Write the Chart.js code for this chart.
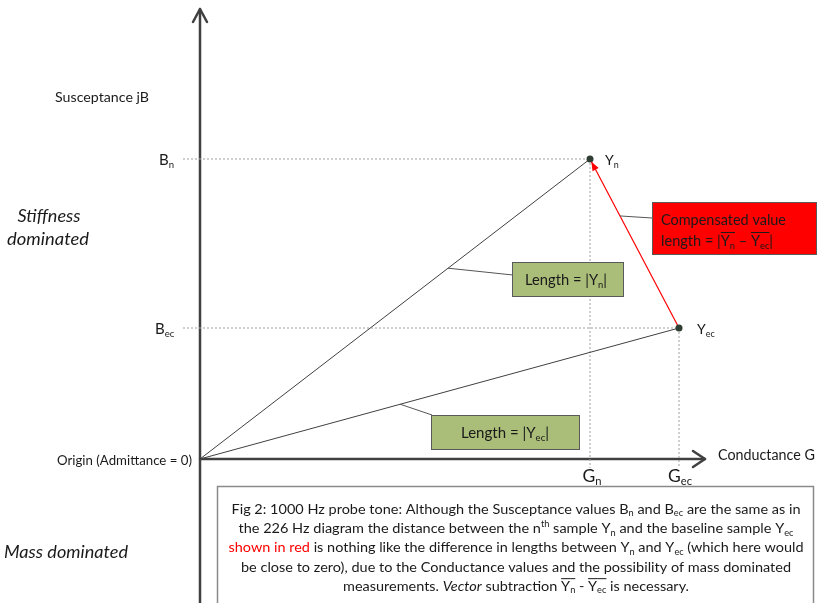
<!DOCTYPE html>
<html>
<head>
<meta charset="utf-8">
<script src="https://cdn.jsdelivr.net/npm/chart.js@4/dist/chart.umd.min.js"></script>
<style>
  body { margin: 0; background: #fff; }
  canvas { display: block; }
</style>
</head>
<body>
<canvas id="phasor" width="820" height="603"></canvas>
<script>
// sample names, conductance (G) and susceptance (B) of each admittance vector
const sampleNames = ['n', 'ec'];
const conductance = [3.9, 4.79];
const susceptance = [3.0, 1.31];

const FONT = 'Lato, "Open Sans", sans-serif';
const AXIS = '#404040';

// --- tiny rich text helper: segments with sub/sup/italic/colour/overline
function segFont(s, size) {
  const sz = (s.sub || s.sup) ? size * 0.64 : size;
  return (s.it ? 'italic ' : '') + sz + 'px ' + FONT;
}
function richWidth(ctx, segs, size) {
  let w = 0;
  segs.forEach(s => { ctx.font = segFont(s, size); w += ctx.measureText(s.t).width; });
  return w;
}
function drawRich(ctx, segs, x, y, size, align, fitW) {
  ctx.save();
  let w = richWidth(ctx, segs, size);
  let sx = 1;
  if (fitW) { sx = fitW / w; w = fitW; }
  let left = align === 'center' ? x - w / 2 : (align === 'right' ? x - w : x);
  ctx.translate(left, y);
  ctx.scale(sx, 1);
  ctx.textBaseline = 'alphabetic';
  ctx.textAlign = 'left';
  let cx = 0;
  segs.forEach(s => {
    ctx.font = segFont(s, size);
    ctx.fillStyle = s.color || '#1a1a1a';
    let dy = s.sub ? size * 0.18 : (s.sup ? -size * 0.45 : 0);
    ctx.fillText(s.t, cx, dy);
    const sw = ctx.measureText(s.t).width;
    if (s.over) {
      ctx.strokeStyle = '#1a1a1a';
      ctx.lineWidth = 1;
      ctx.beginPath();
      ctx.moveTo(cx, -size * 0.9);
      ctx.lineTo(cx + sw, -size * 0.9);
      ctx.stroke();
    }
    cx += sw;
  });
  ctx.restore();
}

function box(ctx, x, y, w, h, fill, stroke, lw) {
  ctx.fillStyle = fill;
  ctx.fillRect(x, y, w, h);
  ctx.strokeStyle = stroke || '#5a5a5a';
  ctx.lineWidth = lw || 1;
  ctx.strokeRect(x + 0.5, y + 0.5, w - 1, h - 1);
}
function line(ctx, x1, y1, x2, y2, color, width) {
  ctx.strokeStyle = color;
  ctx.lineWidth = width;
  ctx.beginPath();
  ctx.moveTo(x1, y1);
  ctx.lineTo(x2, y2);
  ctx.stroke();
}

const diagramPlugin = {
  id: 'diagram',
  beforeDatasetsDraw(chart) {
    const { ctx, scales: { x, y } } = chart;
    const ox = x.getPixelForValue(0), oy = y.getPixelForValue(0);
    ctx.save();
    ctx.lineCap = 'round';
    ctx.lineJoin = 'round';
    // vertical axis (susceptance)
    line(ctx, ox, chart.height + 2, ox, 9, AXIS, 2.5);
    ctx.beginPath();
    ctx.moveTo(ox - 7, 22); ctx.lineTo(ox, 9); ctx.lineTo(ox + 7, 22);
    ctx.stroke();
    // horizontal axis (conductance)
    const xe = x.getPixelForValue(5.05);
    line(ctx, ox, oy, xe, oy, AXIS, 2.5);
    ctx.beginPath();
    ctx.moveTo(xe - 12, oy - 8); ctx.lineTo(xe, oy); ctx.lineTo(xe - 12, oy + 8);
    ctx.stroke();
    ctx.restore();
  },
  afterDatasetsDraw(chart) {
    const { ctx, scales: { x, y } } = chart;
    const px = conductance.map(v => x.getPixelForValue(v));
    const py = susceptance.map(v => y.getPixelForValue(v));
    const ox = x.getPixelForValue(0), oy = y.getPixelForValue(0);
    ctx.save();

    // red arrow head at Y_n
    const ang = Math.atan2(py[0] - py[1], px[0] - px[1]);
    const tx = px[0] - Math.cos(ang) * 3, ty = py[0] - Math.sin(ang) * 3;
    ctx.fillStyle = '#ff0000';
    ctx.beginPath();
    ctx.moveTo(tx, ty);
    ctx.lineTo(tx - 9 * Math.cos(ang) + 3.5 * Math.sin(ang), ty - 9 * Math.sin(ang) - 3.5 * Math.cos(ang));
    ctx.lineTo(tx - 9 * Math.cos(ang) - 3.5 * Math.sin(ang), ty - 9 * Math.sin(ang) + 3.5 * Math.cos(ang));
    ctx.closePath();
    ctx.fill();

    // callout connectors (anchored part way along each vector)
    const along = (x1, y1, x2, y2, t) => [x1 + (x2 - x1) * t, y1 + (y2 - y1) * t];
    const aN = along(ox, oy, px[0], py[0], 0.636);
    const aE = along(ox, oy, px[1], py[1], 0.418);
    const aR = along(px[1], py[1], px[0], py[0], 0.663);
    line(ctx, aN[0], aN[1], 513, 275, '#555', 1);
    line(ctx, aE[0], aE[1], 432, 415, '#555', 1);
    line(ctx, aR[0], aR[1], 652, 218, '#555', 1);

    // callout boxes
    box(ctx, 512, 262, 112, 35, '#aabd79');
    drawRich(ctx, [{ t: 'Length = |Y' }, { t: sampleNames[0], sub: 1 }, { t: '|' }], 566, 285, 15, 'center', 82);
    box(ctx, 431, 415, 149, 35, '#aabd79');
    drawRich(ctx, [{ t: 'Length = |Y' }, { t: sampleNames[1], sub: 1 }, { t: '|' }], 505, 438, 15, 'center', 88);
    box(ctx, 652, 202, 165, 53, '#ff0000');
    drawRich(ctx, [{ t: 'Compensated value' }], 661, 225, 15, 'left', 125);
    drawRich(ctx, [{ t: 'length = |' }, { t: 'Y', over: 1 }, { t: sampleNames[0], sub: 1, over: 1 },
      { t: ' – ' }, { t: 'Y', over: 1 }, { t: sampleNames[1], sub: 1, over: 1 }, { t: '|' }], 661, 246, 15, 'left', 112);

    // axis & point labels
    drawRich(ctx, [{ t: 'Susceptance jB' }], 55, 102, 14, 'left', 94);
    drawRich(ctx, [{ t: 'B' }, { t: sampleNames[0], sub: 1 }], 159, py[0] + 6, 15, 'left');
    drawRich(ctx, [{ t: 'B' }, { t: sampleNames[1], sub: 1 }], 155, py[1] + 6, 15, 'left');
    drawRich(ctx, [{ t: 'Y' }, { t: sampleNames[0], sub: 1 }], px[0] + 15, py[0] + 6, 14, 'left');
    drawRich(ctx, [{ t: 'Y' }, { t: sampleNames[1], sub: 1 }], px[1] + 18, py[1] + 6, 14, 'left');
    drawRich(ctx, [{ t: 'Origin (Admittance = 0)' }], 57, oy + 6, 14, 'left', 135);
    drawRich(ctx, [{ t: 'Conductance G' }], 718, oy + 1, 14.5, 'left', 97);
    drawRich(ctx, [{ t: 'G' }, { t: sampleNames[0], sub: 1 }], px[0] + 2, oy + 23, 17.5, 'center');
    drawRich(ctx, [{ t: 'G' }, { t: sampleNames[1], sub: 1 }], px[1] + 1, oy + 23, 17.5, 'center');
    drawRich(ctx, [{ t: 'Stiffness', it: 1 }], 49, 222, 16.5, 'center', 63);
    drawRich(ctx, [{ t: 'dominated', it: 1 }], 48, 245, 16.5, 'center', 82);
    drawRich(ctx, [{ t: 'Mass dominated', it: 1 }], 4, 558, 16.5, 'left', 124);

    // caption
    box(ctx, 217, 486, 597, 130, '#ffffff', '#8a8a8a', 1.5);
    const sz = 13.5;
    const cap = [
      [[{ t: 'Fig 2: 1000 Hz probe tone: Although the Susceptance values B' }, { t: 'n', sub: 1 }, { t: ' and B' },
        { t: 'ec', sub: 1 }, { t: ' are the same as in' }], 569],
      [[{ t: 'the 226 Hz diagram the distance between the n' }, { t: 'th', sup: 1 }, { t: ' sample Y' }, { t: 'n', sub: 1 },
        { t: ' and the baseline sample Y' }, { t: 'ec', sub: 1 }], 555],
      [[{ t: 'shown in red', color: '#ff0000' }, { t: ' is nothing like the difference in lengths between Y' }, { t: 'n', sub: 1 },
        { t: ' and Y' }, { t: 'ec', sub: 1 }, { t: ' (which here would' }], 575],
      [[{ t: 'be close to zero), due to the Conductance values and the possibility of mass dominated' }], 550],
      [[{ t: 'measurements. ' }, { t: 'Vector', it: 1 }, { t: ' subtraction ' }, { t: 'Y', over: 1 }, { t: 'n', sub: 1, over: 1 },
        { t: ' - ' }, { t: 'Y', over: 1 }, { t: 'ec', sub: 1, over: 1 }, { t: ' is necessary.' }], 346]
    ];
    cap.forEach((c, i) => drawRich(ctx, c[0], 516, 514 + i * 19.2, sz, 'center', c[1]));
    ctx.restore();
  }
};

const dashStart = -0.17, dashEnd = -0.09;
const vecStyle = { showLine: true, borderColor: AXIS, borderWidth: 1, pointBackgroundColor: '#2f3d33', pointBorderWidth: 0 };
const dashStyle = { showLine: true, borderColor: '#a0a0a0', borderWidth: 1, borderDash: [2, 2], pointRadius: 0, order: 5 };

new Chart(document.getElementById('phasor'), {
  type: 'scatter',
  data: {
    datasets: [
      Object.assign({ label: 'Y_n', data: [{ x: 0, y: 0 }, { x: conductance[0], y: susceptance[0] }], pointRadius: [0, 3.5], order: 2 }, vecStyle),
      Object.assign({ label: 'Y_ec', data: [{ x: 0, y: 0 }, { x: conductance[1], y: susceptance[1] }], pointRadius: [0, 3.5], order: 2 }, vecStyle),
      Object.assign({ label: 'B_n', data: [{ x: dashStart, y: susceptance[0] }, { x: conductance[0], y: susceptance[0] }] }, dashStyle),
      Object.assign({ label: 'B_ec', data: [{ x: dashStart, y: susceptance[1] }, { x: conductance[1], y: susceptance[1] }] }, dashStyle),
      Object.assign({ label: 'G_n', data: [{ x: conductance[0], y: susceptance[0] }, { x: conductance[0], y: dashEnd }] }, dashStyle),
      Object.assign({ label: 'G_ec', data: [{ x: conductance[1], y: susceptance[1] }, { x: conductance[1], y: dashEnd }] }, dashStyle),
      { label: 'difference', data: [{ x: conductance[1], y: susceptance[1] }, { x: conductance[0], y: susceptance[0] }],
        showLine: true, borderColor: '#ff0000', borderWidth: 1.2, pointRadius: 0, order: 3 }
    ]
  },
  options: {
    responsive: false,
    animation: false,
    layout: { padding: 0, autoPadding: false },
    scales: {
      x: { type: 'linear', min: -2, max: 6.2, display: false },
      y: { type: 'linear', min: -1.44, max: 4.59, display: false }
    },
    plugins: { legend: { display: false }, tooltip: { enabled: false } }
  },
  plugins: [diagramPlugin]
});
</script>
</body>
</html>
